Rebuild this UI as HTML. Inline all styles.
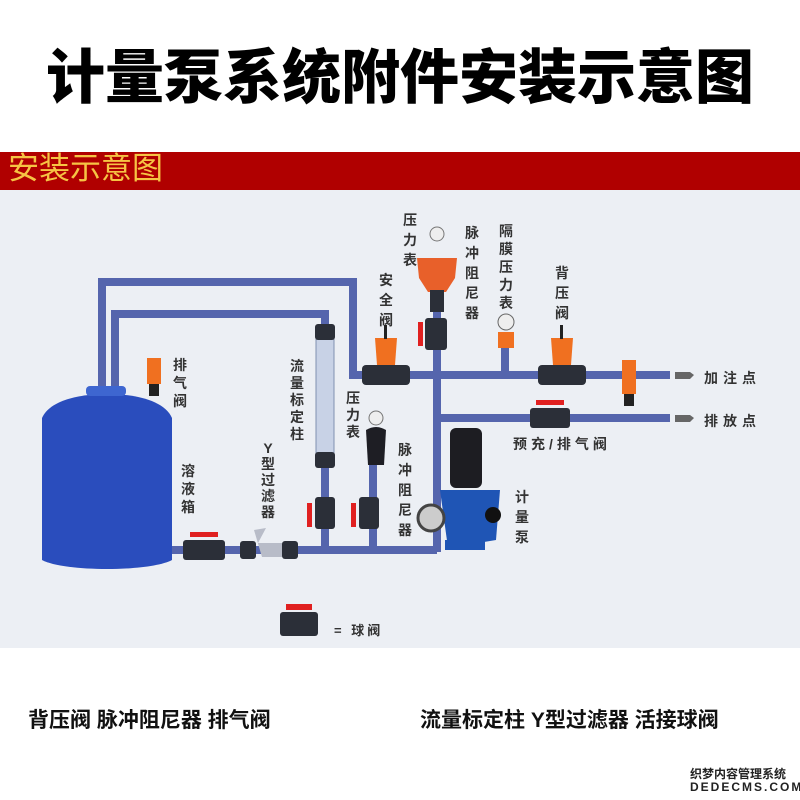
<!DOCTYPE html>
<html><head><meta charset="utf-8"><style>
body{margin:0;width:800px;height:800px;background:#fff;position:relative;overflow:hidden;font-family:"Liberation Sans","Noto Sans CJK SC",sans-serif}
.v{position:absolute;width:16px;font-size:14px;line-height:18px;font-weight:bold;color:#333;text-align:center;word-break:break-all}
</style></head><body>
<div style="position:absolute;left:0;top:30px;width:800px;text-align:center;font-size:59px;font-weight:900;color:#000;letter-spacing:0px">计量泵系统附件安装示意图</div>
<div style="position:absolute;left:0;top:152px;width:800px;height:38px;background:#b00000"></div>
<div style="position:absolute;left:8px;top:152px;font-size:31px;line-height:34px;color:#f6c444">安装示意图</div>
<div style="position:absolute;left:0;top:190px;width:800px;height:458px;background:#eceff4"></div>
<svg style="position:absolute;left:0;top:0" width="800" height="800">
<g stroke="#5565ad" stroke-width="8" fill="none" stroke-linejoin="miter">
<polyline points="102,395 102,282 353,282 353,375 670,375"/>
<polyline points="115,395 115,314 325,314 325,550"/>
<line x1="437" y1="283" x2="437" y2="552"/>
<line x1="437" y1="418" x2="670" y2="418"/>
<line x1="170" y1="550" x2="437" y2="550"/>
<line x1="505" y1="340" x2="505" y2="375"/>
<line x1="373" y1="460" x2="373" y2="550"/>
</g>
<!-- tank -->
<path d="M42,418 C50,400 80,394 107,394 C134,394 164,400 172,418 L172,560 C150,572 64,572 42,560 Z" fill="#2a4dbd"/>
<rect x="86" y="386" width="40" height="10" rx="4" fill="#3e66d0"/>
<!-- tank vent -->
<rect x="147" y="358" width="14" height="26" fill="#f07020"/><rect x="149" y="384" width="10" height="12" fill="#222"/>
<!-- flow column -->
<rect x="316" y="328" width="18" height="130" fill="#c8d2e6" stroke="#8090b0"/>
<rect x="315" y="324" width="20" height="16" rx="3" fill="#2b2f38"/><rect x="315" y="452" width="20" height="16" rx="3" fill="#2b2f38"/>
<!-- ball valves -->
<g fill="#2b2f38">
<rect x="315" y="497" width="20" height="32" rx="3"/><rect x="359" y="497" width="20" height="32" rx="3"/>
<rect x="183" y="540" width="42" height="20" rx="3"/><rect x="425" y="318" width="22" height="32" rx="3"/>
<rect x="530" y="408" width="40" height="20" rx="3"/><rect x="280" y="612" width="38" height="24" rx="3"/>
<rect x="240" y="541" width="16" height="18" rx="3"/><rect x="282" y="541" width="16" height="18" rx="3"/>
</g>
<g fill="#e02020">
<rect x="307" y="503" width="5" height="24"/><rect x="351" y="503" width="5" height="24"/>
<rect x="190" y="532" width="28" height="5"/><rect x="418" y="322" width="5" height="24"/>
<rect x="536" y="400" width="28" height="5"/><rect x="286" y="604" width="26" height="6"/>
</g>
<path d="M258,543 L282,543 L282,557 L262,557 L254,530 L266,528 Z" fill="#b8bcc8"/>
<!-- lower gauge + damper -->
<circle cx="376" cy="418" r="7" fill="#eee" stroke="#777"/>
<path d="M366,430 Q376,424 386,430 L384,465 L368,465 Z" fill="#1e1e24"/>
<!-- top gauge + damper -->
<circle cx="437" cy="234" r="7" fill="#eee" stroke="#777"/>
<path d="M417,258 L457,258 L455,278 L446,292 L428,292 L419,278 Z" fill="#e8602a"/>
<rect x="430" y="290" width="14" height="22" fill="#2b2f38"/>
<!-- safety, back pressure valves -->
<path d="M375,338 L397,338 L395,365 L377,365 Z" fill="#f07020"/><rect x="362" y="365" width="48" height="20" rx="4" fill="#2b2f38"/>
<path d="M551,338 L573,338 L571,365 L553,365 Z" fill="#f07020"/><rect x="538" y="365" width="48" height="20" rx="4" fill="#2b2f38"/>
<rect x="384" y="325" width="3" height="14" fill="#222"/><rect x="560" y="325" width="3" height="14" fill="#222"/>
<!-- diaphragm gauge -->
<circle cx="506" cy="322" r="8" fill="#eee" stroke="#666"/><rect x="498" y="332" width="16" height="16" fill="#f07020"/>
<!-- discharge vent -->
<rect x="622" y="360" width="14" height="34" fill="#f07020"/><rect x="624" y="394" width="10" height="12" fill="#222"/>
<!-- arrows -->
<path d="M675,372 L690,372 L694,375 L690,379 L675,379 Z M675,415 L690,415 L694,418 L690,422 L675,422 Z" fill="#666"/>
<!-- pump -->
<rect x="450" y="428" width="32" height="60" rx="6" fill="#1d1d22"/>
<path d="M440,490 L500,490 L496,540 L448,548 Z" fill="#1f55b5"/>
<circle cx="493" cy="515" r="8" fill="#111"/>
<circle cx="431" cy="518" r="13" fill="#ccc" stroke="#444" stroke-width="3"/>
<rect x="445" y="540" width="40" height="10" fill="#1f55b5"/>
</svg>
<div class="v" style="left:172px;top:356px">排气阀</div>
<div class="v" style="left:180px;top:462px">溶液箱</div>
<div class="v" style="left:260px;top:440px;line-height:16px">Y型过滤器</div>
<div class="v" style="left:289px;top:358px;line-height:17px">流量标定柱</div>
<div class="v" style="left:345px;top:390px;line-height:17px">压力表</div>
<div class="v" style="left:397px;top:440px;line-height:20px">脉冲阻尼器</div>
<div class="v" style="left:514px;top:487px;line-height:20px">计量泵</div>
<div class="v" style="left:402px;top:210px;line-height:20px">压力表</div>
<div class="v" style="left:464px;top:223px;line-height:20px">脉冲阻尼器</div>
<div class="v" style="left:498px;top:222px;line-height:18px">隔膜压力表</div>
<div class="v" style="left:554px;top:263px;line-height:20px">背压阀</div>
<div class="v" style="left:378px;top:270px;line-height:20px">安全阀</div>
<div style="position:absolute;left:704px;top:368px;font-size:14px;font-weight:bold;color:#333;letter-spacing:5px">加注点</div>
<div style="position:absolute;left:704px;top:411px;font-size:14px;font-weight:bold;color:#333;letter-spacing:5px">排放点</div>
<div style="position:absolute;left:513px;top:434px;font-size:14px;font-weight:bold;color:#333;letter-spacing:4px">预充/排气阀</div>
<div style="position:absolute;left:334px;top:620px;font-size:13px;font-weight:bold;color:#333;letter-spacing:3px">= 球阀</div>
<div style="position:absolute;left:28px;top:704px;font-size:21px;font-weight:bold;color:#111">背压阀 脉冲阻尼器 排气阀</div>
<div style="position:absolute;left:420px;top:704px;font-size:21px;font-weight:bold;color:#111">流量标定柱 Y型过滤器 活接球阀</div>
<div style="position:absolute;left:690px;top:765px;font-size:12px;font-weight:bold;color:#222">织梦内容管理系统</div>
<div style="position:absolute;left:690px;top:780px;font-size:12px;font-weight:bold;color:#222;letter-spacing:2px">DEDECMS.COM</div>
</body></html>
